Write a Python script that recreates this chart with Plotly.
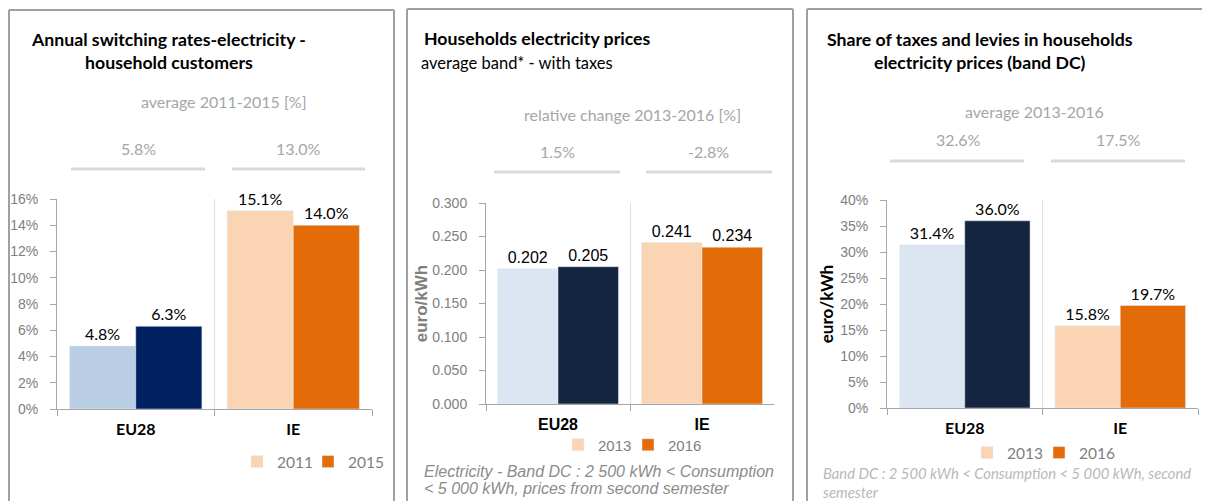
import plotly.graph_objects as go

W, H = 1210, 501
OFF = 8  # the page shows the figure shifted by the body margin


def px(x):
    return (x - OFF) / W


def py(y):
    return 1 - (y - OFF) / H


# ---------------- data ----------------
categories = ["EU28", "IE"]

p1_years = ["2011", "2015"]
p1_values = {"2011": [0.048, 0.151], "2015": [0.063, 0.140]}
p1_avg = ["5.8%", "13.0%"]

p2_years = ["2013", "2016"]
p2_values = {"2013": [0.202, 0.241], "2016": [0.205, 0.234]}
p2_change = ["1.5%", "-2.8%"]

p3_years = ["2013", "2016"]
p3_values = {"2013": [0.314, 0.158], "2016": [0.360, 0.197]}
p3_avg = ["32.6%", "17.5%"]

# ---------------- styles ----------------
P1_EU = ["#b9cde5", "#002060"]
P23_EU = ["#dce6f2", "#14253f"]
IE_COL = ["#fbd4b4", "#e36c09"]

CAL = "Lato, 'Open Sans', sans-serif"
ARIAL = "'Liberation Sans', Arial, sans-serif"

fig = go.Figure()


def add_panel(years, values, eu_cols, xa, ya, legends, fmt, label_font):
    for j, yr in enumerate(years):
        vals = values[yr]
        fig.add_trace(go.Bar(
            x=[categories[0]], y=[vals[0]], name=yr, marker_color=eu_cols[j],
            offsetgroup=str(j), showlegend=False, xaxis=xa, yaxis=ya,
            texttemplate=fmt, textposition="outside", cliponaxis=False,
            textfont=dict(size=16, color="#000000", family=label_font),
            legend=legends[j], hoverinfo="skip"))
        fig.add_trace(go.Bar(
            x=[categories[1]], y=[vals[1]], name=yr, marker_color=IE_COL[j],
            offsetgroup=str(j), showlegend=True, xaxis=xa, yaxis=ya,
            texttemplate=fmt, textposition="outside", cliponaxis=False,
            textfont=dict(size=16, color="#000000", family=label_font),
            legend=legends[j], hoverinfo="skip"))


add_panel(p1_years, p1_values, P1_EU, "x", "y", ["legend", "legend2"], "%{y:.1%}", CAL)
add_panel(p2_years, p2_values, P23_EU, "x2", "y2", ["legend3", "legend4"], "%{y:.3f}", ARIAL)
add_panel(p3_years, p3_values, P23_EU, "x3", "y3", ["legend5", "legend6"], "%{y:.1%}", CAL)

xcommon = dict(type="category", categoryorder="array", categoryarray=categories,
               tickson="boundaries", ticks="outside", ticklen=6, tickcolor="#a6a6a6",
               showline=True, linecolor="#a6a6a6", linewidth=1,
               showgrid=True, gridcolor="#e0e0e0", gridwidth=1,
               ticklabelstandoff=6, fixedrange=True, automargin=False)
ycommon = dict(showline=True, linecolor="#a6a6a6", linewidth=1, ticks="outside",
               ticklen=6, tickcolor="#a6a6a6", showgrid=False, zeroline=False,
               ticklabelstandoff=9, automargin=False,
               tickfont=dict(family=ARIAL, size=14, color="#808080"), fixedrange=True)

fig.update_layout(
    width=W, height=H, margin=dict(l=0, r=0, t=0, b=0, pad=0, autoexpand=False),
    paper_bgcolor="white", plot_bgcolor="white",
    barmode="group", bargap=0.16, bargroupgap=0,
    showlegend=True,
    xaxis=dict(domain=[px(57), px(372)], anchor="y",
               tickfont=dict(family=CAL, size=16, color="#000000", weight="bold"), **xcommon),
    yaxis=dict(domain=[py(409), py(199)], anchor="x", range=[0, 0.16], dtick=0.02,
               tickformat=".0%", **ycommon),
    xaxis2=dict(domain=[px(486), px(774)], anchor="y2",
                tickfont=dict(family=ARIAL, size=16, color="#000000", weight="bold"), **xcommon),
    yaxis2=dict(domain=[py(404), py(203)], anchor="x2", range=[0, 0.3], dtick=0.05,
                tickformat=".3f",
                title=dict(text="<b>euro/kWh</b>", font=dict(family=ARIAL, size=17, color="#7f7f7f"),
                           standoff=0),
                **ycommon),
    xaxis3=dict(domain=[px(887), px(1198)], anchor="y3",
                tickfont=dict(family=CAL, size=16, color="#000000", weight="bold"), **xcommon),
    yaxis3=dict(domain=[py(408), py(200)], anchor="x3", range=[0, 0.4], dtick=0.05,
                tickformat=".0%",
                title=dict(text="<b>euro/kWh</b>", font=dict(family=CAL, size=17, color="#000000"),
                           standoff=2),
                **ycommon),
)

# one legend per year entry so each key can sit where the reference shows it
legcommon = dict(orientation="h", bgcolor="rgba(0,0,0,0)", yanchor="middle",
                 xanchor="left", itemclick=False, itemdoubleclick=False, tracegroupgap=0)
LF_CAL = dict(family=CAL, size=15.5, color="#7f7f7f")
LF_AR = dict(family=ARIAL, size=15, color="#7f7f7f")
fig.update_layout(
    legend=dict(x=px(237), y=py(462), font=LF_CAL, **legcommon),
    legend2=dict(x=px(308), y=py(462), font=LF_CAL, **legcommon),
    legend3=dict(x=px(558), y=py(445), font=LF_AR, **legcommon),
    legend4=dict(x=px(628), y=py(445), font=LF_AR, **legcommon),
    legend5=dict(x=px(967), y=py(453), font=LF_CAL, **legcommon),
    legend6=dict(x=px(1039), y=py(453), font=LF_CAL, **legcommon),
)

# ---------------- annotations ----------------
ann = []


def text(x, y, s, size, color, family, xanchor="center", align="center"):
    ann.append(dict(x=px(x), y=py(y), xref="paper", yref="paper", text=s, showarrow=False,
                    xanchor=xanchor, yanchor="middle", align=align,
                    font=dict(size=size, color=color, family=family)))


GRAY = "#a6a6a6"
# panel 1
text(168, 50.5, "<b>Annual switching rates-electricity -<br>household customers</b>", 17.7, "#000000", CAL)
text(224, 102, "average 2011-2015 [%]", 16, GRAY, CAL)
text(138, 148, p1_avg[0], 16, GRAY, CAL)
text(298, 148, p1_avg[1], 16, GRAY, CAL)

# panel 2
text(422, 39, "<b>Households electricity prices</b>", 17.7, "#000000", CAL, xanchor="left", align="left")
text(419, 63, "average band* - with taxes", 16.5, "#000000", CAL, xanchor="left", align="left")
text(633, 115, "relative change 2013-2016 [%]", 16, GRAY, CAL)
text(557, 151, p2_change[0], 16, GRAY, CAL)
text(708, 151, p2_change[1], 16, GRAY, CAL)
text(422, 471, "<i>Electricity - Band DC : 2 500 kWh &lt; Consumption</i>",
     16, "#8c8c8c", ARIAL, xanchor="left", align="left")
text(422, 488, "<i>&lt; 5 000 kWh, prices from second semester</i>",
     16, "#8c8c8c", ARIAL, xanchor="left", align="left")

# panel 3
text(980, 50.5, "<b>Share of taxes and levies in households<br>electricity prices (band DC)</b>", 17.7, "#000000", CAL)
text(1034, 112, "average 2013-2016", 16, GRAY, CAL)
text(958, 139, p3_avg[0], 16, GRAY, CAL)
text(1118, 139, p3_avg[1], 16, GRAY, CAL)
text(821, 473, "<i>Band DC : 2 500 kWh &lt; Consumption &lt; 5 000 kWh, second</i>",
     14.8, "#b8b8b8", CAL, xanchor="left", align="left")
text(821, 492, "<i>semester</i>",
     14.8, "#b8b8b8", CAL, xanchor="left", align="left")

fig.update_layout(annotations=ann)

# ---------------- decorative shapes ----------------
shapes = []


def line(x0, y0, x1, y1, color, width):
    shapes.append(dict(type="line", xref="paper", yref="paper", x0=px(x0), y0=py(y0),
                       x1=px(x1), y1=py(y1), line=dict(color=color, width=width)))


# separator bars above charts
line(71, 169, 205, 169, "#d9d9d9", 3)
line(232, 169, 365, 169, "#d9d9d9", 3)
line(494, 172, 620, 172, "#d9d9d9", 3)
line(646, 172, 772, 172, "#d9d9d9", 3)
line(890, 161, 1024, 161, "#d9d9d9", 3)
line(1051, 161, 1185, 161, "#d9d9d9", 3)

# panel frames
BC = "#a0a0a0"
line(9, 10, 394, 10, BC, 2)
line(9, 10, 9, 515, BC, 2)
line(394, 10, 394, 515, BC, 2)
line(407, 9, 793, 9, BC, 2)
line(407, 9, 407, 515, BC, 2)
line(793, 9, 793, 515, BC, 2)
line(807, 9, 1225, 9, BC, 2)
line(807, 9, 807, 515, BC, 2)

fig.update_layout(shapes=shapes)

fig.write_html("out.html")
